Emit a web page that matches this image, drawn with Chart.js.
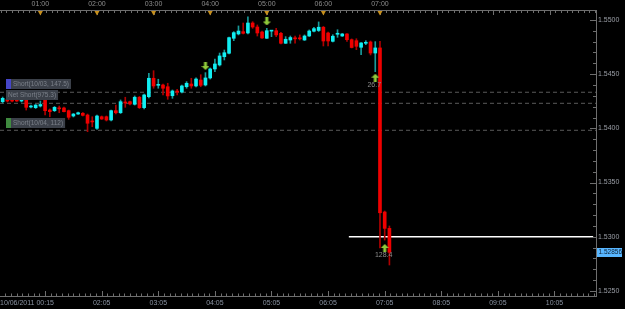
<!DOCTYPE html>
<html>
<head>
<meta charset="utf-8">
<script src="https://cdn.jsdelivr.net/npm/chart.js@4.4.1/dist/chart.umd.min.js"></script>
<style>
  html, body { margin: 0; padding: 0; background: #000; }
  canvas { display: block; }
</style>
</head>
<body>
<canvas id="chart" width="625" height="309"></canvas>
<script>
// 5 minute candles, 10/06/2011
const times = [
  '00:20', '00:25', '00:30', '00:35', '00:40', '00:45', '00:50', '00:55',
  '01:00', '01:05', '01:10', '01:15', '01:20', '01:25', '01:30', '01:35', '01:40', '01:45', '01:50', '01:55',
  '02:00', '02:05', '02:10', '02:15', '02:20', '02:25', '02:30', '02:35', '02:40', '02:45', '02:50', '02:55',
  '03:00', '03:05', '03:10', '03:15', '03:20', '03:25', '03:30', '03:35', '03:40', '03:45', '03:50', '03:55',
  '04:00', '04:05', '04:10', '04:15', '04:20', '04:25', '04:30', '04:35', '04:40', '04:45', '04:50', '04:55',
  '05:00', '05:05', '05:10', '05:15', '05:20', '05:25', '05:30', '05:35', '05:40', '05:45', '05:50', '05:55',
  '06:00', '06:05', '06:10', '06:15', '06:20', '06:25', '06:30', '06:35', '06:40', '06:45', '06:50', '06:55',
  '07:00', '07:05', '07:10'
]
const opens = [
  1.54246, 1.54266, 1.54262, 1.54257, 1.54252, 1.54262, 1.54197, 1.54191,
  1.54206, 1.54268, 1.54169, 1.54163, 1.54185, 1.54188, 1.54163, 1.54114, 1.54132, 1.54139, 1.54123, 1.54066,
  1.54000, 1.54107, 1.54107, 1.54077, 1.54163, 1.54144, 1.54239, 1.54246, 1.54222, 1.54287, 1.54191, 1.54292,
  1.54462, 1.54397, 1.54400, 1.54384, 1.54301, 1.54340, 1.54335, 1.54384, 1.54409, 1.54391, 1.54446, 1.54400,
  1.54465, 1.54548, 1.54585, 1.54661, 1.54693, 1.54831, 1.54871, 1.54892, 1.54880, 1.54972, 1.54935, 1.54889,
  1.54831, 1.54897, 1.54901, 1.54877, 1.54785, 1.54815, 1.54831, 1.54831, 1.54815, 1.54852, 1.54896, 1.54903,
  1.54933, 1.54880, 1.54803, 1.54868, 1.54852, 1.54871, 1.54818, 1.54809, 1.54748, 1.54785, 1.54797, 1.54695,
  1.54742, 1.53228, 1.53077
]
const highs = [
  1.54289, 1.54271, 1.54271, 1.54266, 1.54271, 1.54271, 1.54215, 1.54220,
  1.54252, 1.54271, 1.54179, 1.54202, 1.54206, 1.54197, 1.54169, 1.54137, 1.54151, 1.54146, 1.54132, 1.54107,
  1.54123, 1.54114, 1.54114, 1.54169, 1.54215, 1.54262, 1.54287, 1.54252, 1.54299, 1.54294, 1.54317, 1.54508,
  1.54532, 1.54453, 1.54409, 1.54416, 1.54354, 1.54360, 1.54400, 1.54431, 1.54462, 1.54465, 1.54495, 1.54514,
  1.54557, 1.54640, 1.54695, 1.54723, 1.54843, 1.54892, 1.54945, 1.54972, 1.55030, 1.54984, 1.54954, 1.54898,
  1.54923, 1.54901, 1.54923, 1.54885, 1.54846, 1.54852, 1.54852, 1.54862, 1.54862, 1.54908, 1.54931, 1.54982,
  1.54940, 1.54889, 1.54864, 1.54910, 1.54875, 1.54875, 1.54825, 1.54827, 1.54792, 1.54809, 1.54806, 1.54800,
  1.54802, 1.53237, 1.53099
]
const lows = [
  1.54234, 1.54243, 1.54243, 1.54248, 1.54243, 1.54169, 1.54188, 1.54183,
  1.54197, 1.54123, 1.54107, 1.54155, 1.54144, 1.54151, 1.54083, 1.54105, 1.54128, 1.54114, 1.53969, 1.54015,
  1.53991, 1.54082, 1.54068, 1.54068, 1.54132, 1.54137, 1.54194, 1.54215, 1.54215, 1.54183, 1.54179, 1.54280,
  1.54370, 1.54370, 1.54308, 1.54268, 1.54277, 1.54308, 1.54326, 1.54370, 1.54370, 1.54382, 1.54384, 1.54391,
  1.54455, 1.54523, 1.54575, 1.54631, 1.54686, 1.54809, 1.54862, 1.54871, 1.54871, 1.54923, 1.54852, 1.54829,
  1.54829, 1.54846, 1.54846, 1.54778, 1.54783, 1.54785, 1.54785, 1.54815, 1.54811, 1.54848, 1.54889, 1.54894,
  1.54760, 1.54760, 1.54797, 1.54840, 1.54848, 1.54803, 1.54742, 1.54726, 1.54680, 1.54772, 1.54677, 1.54523,
  1.52896, 1.52969, 1.52739
]
const closes = [
  1.54277, 1.54252, 1.54252, 1.54252, 1.54266, 1.54194, 1.54206, 1.54215,
  1.54220, 1.54163, 1.54154, 1.54194, 1.54180, 1.54154, 1.54102, 1.54132, 1.54144, 1.54120, 1.54047, 1.54059,
  1.54114, 1.54086, 1.54077, 1.54163, 1.54144, 1.54246, 1.54234, 1.54225, 1.54287, 1.54191, 1.54308, 1.54462,
  1.54391, 1.54403, 1.54370, 1.54299, 1.54345, 1.54335, 1.54391, 1.54416, 1.54391, 1.54455, 1.54397, 1.54465,
  1.54548, 1.54594, 1.54668, 1.54698, 1.54837, 1.54883, 1.54898, 1.54877, 1.54972, 1.54935, 1.54880, 1.54834,
  1.54901, 1.54901, 1.54862, 1.54785, 1.54822, 1.54838, 1.54826, 1.54826, 1.54852, 1.54898, 1.54920, 1.54933,
  1.54806, 1.54806, 1.54850, 1.54871, 1.54871, 1.54818, 1.54746, 1.54757, 1.54788, 1.54788, 1.54695, 1.54742,
  1.53221, 1.53077, 1.52856
]

// axis labels
const priceTicks = [1.5250, 1.5300, 1.5350, 1.5400, 1.5450, 1.5500]
const topLabels = ['01:00', '02:00', '03:00', '04:00', '05:00', '06:00', '07:00']
const bottomStart = '10/06/2011 00:15'
const bottomLabels = ['02:05', '03:05', '04:05', '05:05', '06:05', '07:05', '08:05', '09:05', '10:05']

// levels and markers
const dashLevels = [1.54333, 1.54231, 1.53982]
const annotTexts = ['Short(10/03, 147.5)', 'Net Short(975.3)', 'Short(10/04, 112)']
const annotPrices = [1.54455, 1.54354, 1.54095]
const trendLevel = 1.5300
const trendFrom = '06:27'
const trendTo = '10:46'
const downArrowTimes = ['03:55', '05:00']
const downArrowPrices = [1.54575, 1.54986]
const upArrowTimes = ['06:55', '07:05']
const upArrowPrices = [1.54467, 1.52896]
const upArrowLabels = ['26.7', '128.4']

const toMin = (s) => {
  const [h, m] = s.split(':').map(Number)
  return h * 60 + m
}

const xMin = 17.2
const xMax = 649
const FONT = '"Liberation Sans", Arial, sans-serif'

const isUp = (i) => closes[i] >= opens[i]

function arrowImage(up) {
  const c = document.createElement('canvas')
  c.width = 8
  c.height = 8
  const g = c.getContext('2d')
  g.fillStyle = '#8fc93a'
  g.beginPath()
  if (up) {
    g.moveTo(4, 0); g.lineTo(8, 4); g.lineTo(5.5, 4); g.lineTo(5.5, 8)
    g.lineTo(2.5, 8); g.lineTo(2.5, 4); g.lineTo(0, 4)
  } else {
    g.moveTo(4, 8); g.lineTo(8, 4); g.lineTo(5.5, 4); g.lineTo(5.5, 0)
    g.lineTo(2.5, 0); g.lineTo(2.5, 4); g.lineTo(0, 4)
  }
  g.closePath()
  g.fill()
  return c
}

const decor = {
  id: 'decor',
  afterDatasetsDraw(chart) {
    const { ctx, scales: { x, y } } = chart
    ctx.save()
    ctx.textBaseline = 'middle'

    // label boxes at the left
    ctx.font = '6.5px ' + FONT
    const squares = ['#4646c8', null, '#3f8a3f']
    annotTexts.forEach((txt, i) => {
      const top = Math.round(y.getPixelForValue(annotPrices[i]))
      const tx = squares[i] ? 13 : 8
      const w = ctx.measureText(txt).width
      ctx.fillStyle = '#3b4049'
      ctx.fillRect(6, top, tx - 6 + w + 2, 10)
      if (squares[i]) {
        ctx.fillStyle = squares[i]
        ctx.fillRect(6, top, 5, 10)
      }
      ctx.fillStyle = '#7b808a'
      ctx.textAlign = 'left'
      ctx.fillText(txt, tx, top + 5.5)
    })

    // values under the up arrows
    ctx.font = '7px ' + FONT
    ctx.textAlign = 'center'
    ctx.fillStyle = '#8a8a8a'
    upArrowTimes.forEach((t, i) => {
      const px = x.getPixelForValue(toMin(t))
      const py = y.getPixelForValue(upArrowPrices[i])
      ctx.fillText(upArrowLabels[i], px - 1, py + 7)
    })
    ctx.restore()
  },
  afterDraw(chart) {
    const { ctx, chartArea: a, scales: { x, y } } = chart
    ctx.save()
    ctx.strokeStyle = '#6e6e6e'
    ctx.lineWidth = 1
    const seg = (x1, y1, x2, y2) => {
      ctx.beginPath()
      ctx.moveTo(x1, y1)
      ctx.lineTo(x2, y2)
      ctx.stroke()
    }

    // top time axis
    seg(a.left, a.top + 0.5, a.right, a.top + 0.5)
    for (let t = Math.ceil(xMin / 6) * 6; t <= xMax; t += 6) {
      const px = Math.round(x.getPixelForValue(t)) + 0.5
      seg(px, a.top, px, a.top + (t % 60 === 0 ? 5 : 3))
    }
    // bottom time axis
    seg(a.left, a.bottom + 0.5, a.right, a.bottom + 0.5)
    for (let t = 5; t <= xMax; t += 6) {
      if (t < xMin) continue
      const px = Math.round(x.getPixelForValue(t)) + 0.5
      seg(px, a.bottom - ((t - 5) % 60 === 0 ? 5 : 2.5), px, a.bottom)
    }
    // price ticks on the right
    for (let k = 1525; k <= 1550; k++) {
      const py = Math.round(y.getPixelForValue(k / 1000)) + 0.5
      seg(a.right - (k % 5 === 0 ? 6 : 3), py, a.right, py)
    }

    ctx.font = '7px ' + FONT
    ctx.textBaseline = 'middle'

    // hour labels and markers on top
    topLabels.forEach((lbl) => {
      const px = x.getPixelForValue(toMin(lbl))
      ctx.fillStyle = '#c8901c'
      ctx.beginPath()
      ctx.moveTo(px - 2.5, a.top + 1)
      ctx.lineTo(px + 2.5, a.top + 1)
      ctx.lineTo(px, a.top + 5.5)
      ctx.closePath()
      ctx.fill()
      ctx.fillStyle = '#8c8c8c'
      ctx.textAlign = 'center'
      ctx.fillText(lbl, px, 4.5)
    })

    // bottom labels
    ctx.fillStyle = '#8a93a2'
    ctx.textAlign = 'left'
    ctx.fillText(bottomStart, a.left, 303.5)
    ctx.textAlign = 'center'
    bottomLabels.forEach((lbl) => {
      ctx.fillText(lbl, x.getPixelForValue(toMin(lbl)), 303.5)
    })

    // last price box
    const last = closes[closes.length - 1]
    const py = y.getPixelForValue(last)
    ctx.font = '6.5px ' + FONT
    ctx.fillStyle = '#58b6ff'
    ctx.fillRect(a.right + 1, Math.round(py) - 4, 25, 9)
    ctx.fillStyle = '#0d2236'
    ctx.textAlign = 'left'
    ctx.fillText(last.toFixed(5), a.right + 2.5, Math.round(py) + 0.5)
    ctx.restore()
  }
}

const ctx = document.getElementById('chart')

new Chart(ctx, {
  type: 'bar',
  data: {
    datasets: [
      {
        label: 'wicks',
        data: times.map((t, i) => ({ x: toMin(t), y: [lows[i], highs[i]] })),
        backgroundColor: (c) => (isUp(c.dataIndex) ? '#189a9a' : '#b00000'),
        barThickness: 1,
        grouped: false,
        order: 3
      },
      {
        label: 'bodies',
        data: times.map((t, i) => ({ x: toMin(t), y: [opens[i], closes[i]] })),
        backgroundColor: (c) => (isUp(c.dataIndex) ? '#11eef2' : '#f00000'),
        barThickness: 3,
        minBarLength: 1,
        grouped: false,
        order: 2
      },
      ...dashLevels.map((lvl) => ({
        type: 'line',
        data: [{ x: xMin, y: lvl }, { x: xMax, y: lvl }],
        borderColor: '#5a5a5a',
        borderWidth: 1,
        borderDash: [4, 3],
        pointRadius: 0,
        order: 6
      })),
      {
        type: 'line',
        data: [{ x: toMin(trendFrom), y: trendLevel }, { x: toMin(trendTo), y: trendLevel }],
        borderColor: '#ffffff',
        borderWidth: 1.5,
        pointRadius: 0,
        order: 5
      },
      {
        type: 'line',
        data: downArrowTimes.map((t, i) => ({ x: toMin(t), y: downArrowPrices[i] })),
        showLine: false,
        pointStyle: arrowImage(false),
        order: 1
      },
      {
        type: 'line',
        data: upArrowTimes.map((t, i) => ({ x: toMin(t), y: upArrowPrices[i] })),
        showLine: false,
        pointStyle: arrowImage(true),
        order: 1
      }
    ]
  },
  options: {
    responsive: false,
    animation: false,
    layout: { autoPadding: false, padding: { top: 10, bottom: 13, left: 0, right: 0 } },
    plugins: {
      legend: { display: false },
      tooltip: { enabled: false }
    },
    scales: {
      x: {
        type: 'linear',
        display: false,
        min: xMin,
        max: xMax,
        offset: false
      },
      y: {
        position: 'right',
        min: 1.52453,
        max: 1.55092,
        afterFit: (s) => { s.width = 29 },
        afterBuildTicks: (s) => { s.ticks = priceTicks.map((v) => ({ value: v })) },
        ticks: {
          autoSkip: false,
          padding: 2,
          color: '#9a9ea6',
          font: { size: 7, family: FONT },
          callback: (v) => v.toFixed(4)
        },
        grid: { drawOnChartArea: false, drawTicks: false },
        border: { color: '#6e6e6e' }
      }
    }
  },
  plugins: [decor]
})
</script>
</body>
</html>
